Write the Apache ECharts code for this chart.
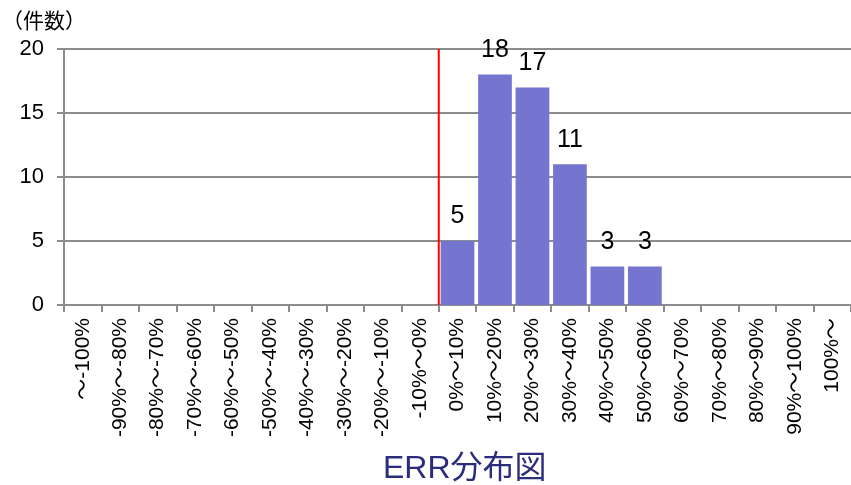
<!DOCTYPE html>
<html>
<head>
<meta charset="utf-8">
<script src="https://cdn.jsdelivr.net/npm/echarts@6/dist/echarts.min.js"></script>
<style>
  html, body { margin: 0; padding: 0; background: #fff; }
  #chart { width: 851px; height: 485px; }
</style>
</head>
<body>
<div id="chart"></div>
<script>
// ERR error-rate bins
const categories = [
  '～-100%', '-90%～-80%', '-80%～-70%', '-70%～-60%', '-60%～-50%',
  '-50%～-40%', '-40%～-30%', '-30%～-20%', '-20%～-10%', '-10%～0%',
  '0%～10%', '10%～20%', '20%～30%', '30%～40%', '40%～50%',
  '50%～60%', '60%～70%', '70%～80%', '80%～90%', '90%～100%', '100%～'
];
// number of cases per bin
const counts = [0, 0, 0, 0, 0, 0, 0, 0, 0, 0, 5, 18, 17, 11, 3, 3, 0, 0, 0, 0, 0];
// y-axis ticks
const yMin = 0, yMax = 20, yStep = 5;
// boundary between negative and positive bins (in bin units)
const zeroBoundary = 10;

const FONT = "'Liberation Sans', Arial, 'Noto Sans CJK JP', sans-serif";
const GRID_GRAY = '#8c8c8c';

const chart = echarts.init(document.getElementById('chart'), null, { renderer: 'canvas' });

chart.setOption({
  animation: false,
  backgroundColor: '#ffffff',
  title: [
    {
      text: 'ERR分布図',
      left: 378, top: 448,
      textStyle: { fontFamily: FONT, fontSize: 32, fontWeight: 'normal', color: '#2b2d7c' }
    },
    {
      text: '（件数）',
      left: -3, top: 7,
      textStyle: { fontFamily: FONT, fontSize: 21, fontWeight: 'normal', color: '#000' }
    }
  ],
  grid: { left: 64, top: 49, width: 789, height: 256, containLabel: false },
  xAxis: [
    {
      type: 'category',
      data: categories,
      axisLine: { show: true, lineStyle: { color: GRID_GRAY, width: 2 } },
      axisTick: { show: true, alignWithLabel: false, length: 7, lineStyle: { color: GRID_GRAY, width: 2 } },
      axisLabel: {
        interval: 0, rotate: 90, margin: 13,
        fontFamily: FONT, fontSize: 21, color: '#000'
      },
      splitLine: { show: false }
    },
    {
      type: 'value',
      min: 0, max: categories.length,
      show: false
    }
  ],
  yAxis: {
    type: 'value',
    min: yMin, max: yMax, interval: yStep,
    axisLine: { show: true, lineStyle: { color: GRID_GRAY, width: 2 } },
    axisTick: { show: true, length: 7, lineStyle: { color: GRID_GRAY, width: 2 } },
    axisLabel: { margin: 20, fontFamily: FONT, fontSize: 22, color: '#000' },
    splitLine: { show: true, lineStyle: { color: GRID_GRAY, width: 2 } }
  },
  series: [
    {
      type: 'bar',
      data: counts,
      xAxisIndex: 0,
      barCategoryGap: '10%',
      itemStyle: { color: '#7575d0' },
      label: {
        show: true, position: 'top', distance: 12,
        fontFamily: FONT, fontSize: 25, color: '#000',
        formatter: p => (p.value ? String(p.value) : '')
      },
      z: 2
    },
    {
      type: 'line',
      xAxisIndex: 1,
      data: [[zeroBoundary, yMin], [zeroBoundary, yMax]],
      symbol: 'none',
      lineStyle: { color: '#ff0000', width: 2 },
      silent: true,
      z: 3
    }
  ]
});
</script>
</body>
</html>
